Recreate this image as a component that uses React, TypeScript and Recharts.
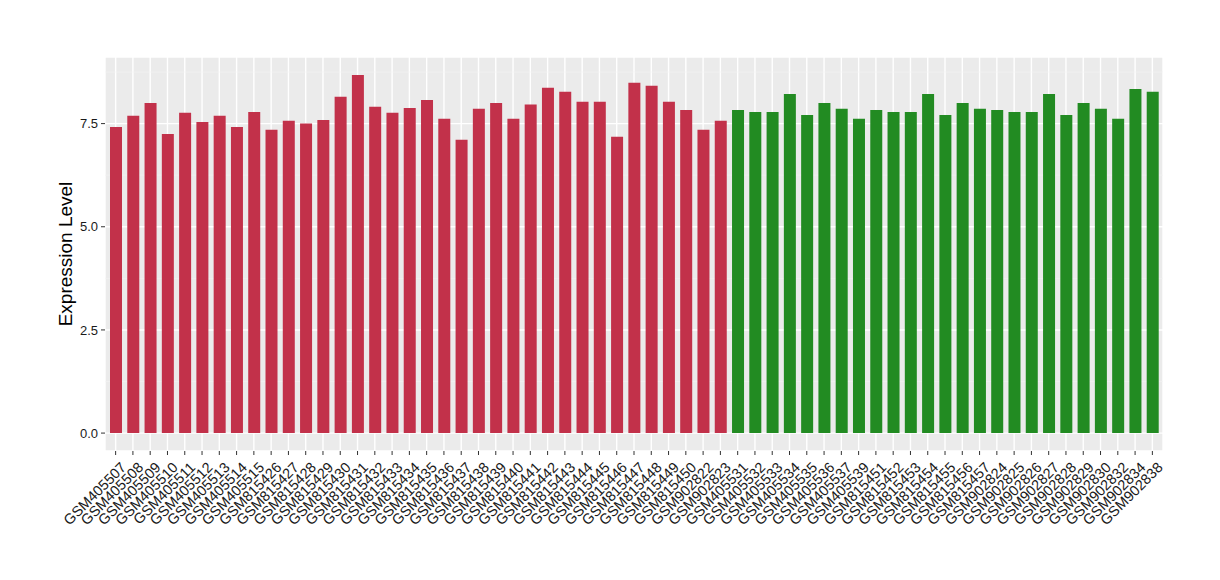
import { BarChart, Bar, XAxis, YAxis, CartesianGrid, Cell } from "recharts";

const samples = [
  "GSM405507", "GSM405508", "GSM405509", "GSM405510", "GSM405511", "GSM405512", "GSM405513", "GSM405514", "GSM405515",
  "GSM815426", "GSM815427", "GSM815428", "GSM815429", "GSM815430", "GSM815431", "GSM815432", "GSM815433", "GSM815434",
  "GSM815435", "GSM815436", "GSM815437", "GSM815438", "GSM815439", "GSM815440", "GSM815441", "GSM815442", "GSM815443",
  "GSM815444", "GSM815445", "GSM815446", "GSM815447", "GSM815448", "GSM815449", "GSM815450", "GSM902822", "GSM902823",
  "GSM405531", "GSM405532", "GSM405533", "GSM405534", "GSM405535", "GSM405536", "GSM405537", "GSM405539",
  "GSM815451", "GSM815452", "GSM815453", "GSM815454", "GSM815455", "GSM815456", "GSM815457",
  "GSM902824", "GSM902825", "GSM902826", "GSM902827", "GSM902828", "GSM902829", "GSM902830", "GSM902832", "GSM902834", "GSM902838",
];

const values = [
  7.42, 7.69, 8.0, 7.25, 7.76, 7.54, 7.69, 7.42, 7.78,
  7.35, 7.57, 7.5, 7.59, 8.15, 8.68, 7.91, 7.76, 7.88,
  8.07, 7.62, 7.11, 7.86, 8.0, 7.62, 7.96, 8.37, 8.27,
  8.03, 8.03, 7.18, 8.49, 8.42, 8.03, 7.83, 7.35, 7.57,
  7.83, 7.78, 7.78, 8.22, 7.71, 8.0, 7.86, 7.62,
  7.83, 7.78, 7.78, 8.22, 7.71, 8.0, 7.86,
  7.83, 7.78, 7.78, 8.22, 7.71, 8.0, 7.86, 7.62, 8.34, 8.27,
];

// first 36 samples are group 1 (red), the rest group 2 (green)
const groups = samples.map((_, i) => (i < 36 ? 0 : 1));
const groupColors = ["#C2314A", "#228B22"];

const yTicks = [0, 2.5, 5, 7.5];
const minorTicks = [1.25, 3.75, 6.25, 8.75];

const data = samples.map((name, i) => ({ name, value: values[i], group: groups[i] }));

const font = "'Liberation Sans', Arial, Helvetica, sans-serif";

const XTick = (props: any) => {
  const { x, y, payload } = props;
  const ax = x + 4;
  const ay = y + 4;
  return (
    <text
      x={ax}
      y={ay}
      transform={`rotate(-45, ${ax}, ${ay})`}
      textAnchor="end"
      dominantBaseline="hanging"
      fontSize={14.5}
      fontFamily={font}
      fill="#1a1a1a"
    >
      {payload.value}
    </text>
  );
};

export default function App() {
  return (
    <BarChart
      width={1212}
      height={572}
      data={data}
      margin={{ top: 49, right: 57, bottom: 0, left: 0 }}
    >
      <CartesianGrid fill="#EBEBEB" stroke="#FFFFFF" strokeWidth={1.4} />
      <CartesianGrid
        vertical={false}
        horizontalValues={minorTicks}
        stroke="#F4F4F4"
        strokeWidth={0.6}
      />
      <XAxis
        dataKey="name"
        interval={0}
        height={129}
        tick={<XTick />}
        tickSize={4}
        axisLine={false}
        tickLine={{ stroke: "#333" }}
        padding={{ left: 2, right: 2 }}
      />
      <YAxis
        type="number"
        domain={[-0.434, 9.114]}
        ticks={yTicks}
        allowDataOverflow
        width={97}
        axisLine={false}
        tickSize={4}
        tickMargin={3}
        tickLine={{ stroke: "#333" }}
        tickFormatter={(v: number) => v.toFixed(1)}
        tick={{ fontSize: 13, fill: "#1a1a1a", fontFamily: font }}
        label={{
          value: "Expression Level",
          position: "insideLeft",
          content: (p: any) => {
            const vb = p.viewBox;
            const cy = vb.y + vb.height / 2;
            return (
              <text
                x={57}
                y={cy}
                transform={`rotate(-90, 57, ${cy})`}
                textAnchor="middle"
                dominantBaseline="central"
                fontSize={19}
                fontFamily={font}
                fill="#000"
              >
                Expression Level
              </text>
            );
          },
        }}
      />
      <Bar dataKey="value" barSize={12} isAnimationActive={false}>
        {data.map((d, i) => (
          <Cell key={i} fill={groupColors[d.group]} />
        ))}
      </Bar>
    </BarChart>
  );
}
